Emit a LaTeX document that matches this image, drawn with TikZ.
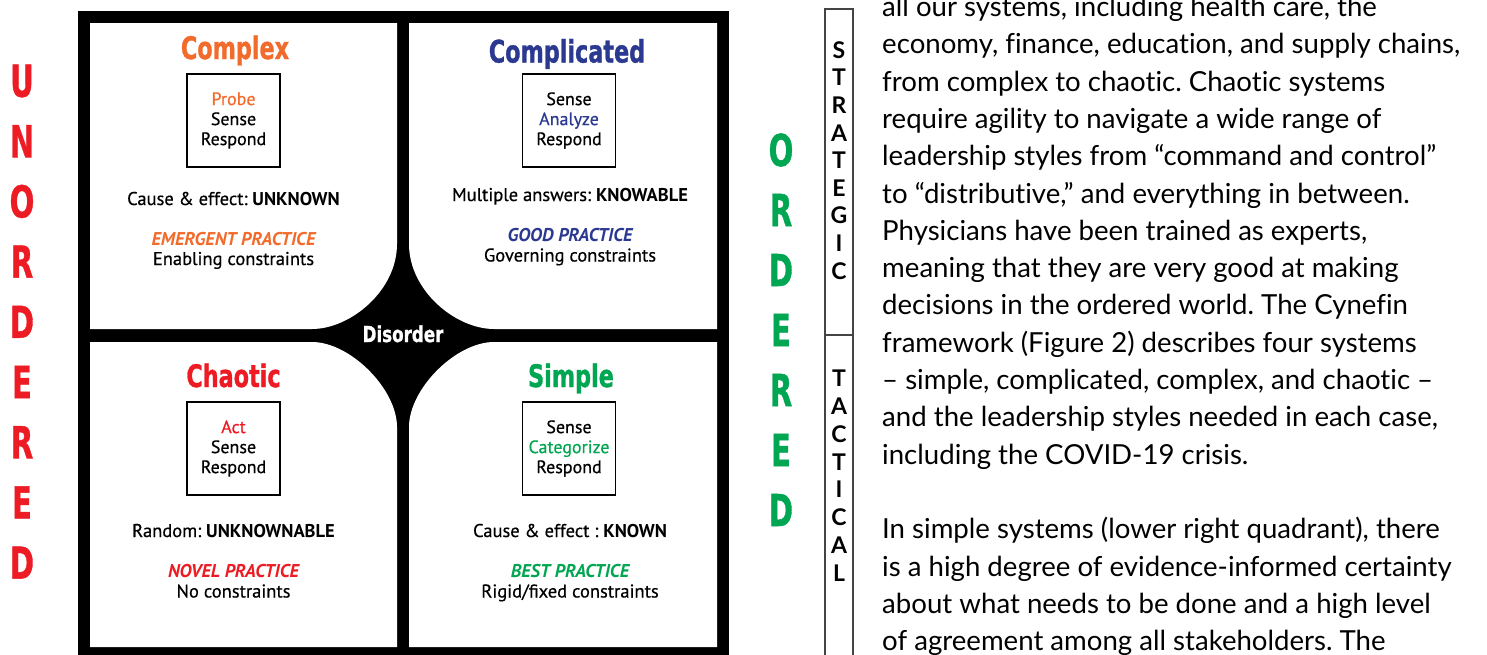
\documentclass[tikz,border=0pt]{standalone}
\usepackage{fontspec}
\usepackage{graphicx}
\setmainfont{Lato}
\newfontfamily\qfont{PT Sans}[UprightFeatures={FakeBold=0.5}]
\newfontfamily\heavy{DejaVu Sans}[BoldFeatures={FakeBold=1.2}]
\newfontfamily\latof{Lato}[Ligatures=NoCommon]
\definecolor{cxorange}{HTML}{F26B2B}
\definecolor{cxblue}{HTML}{2B3990}
\definecolor{cxred}{HTML}{ED1C24}
\definecolor{cxgreen}{HTML}{00A651}
\definecolor{stripgray}{HTML}{444444}
\newcommand{\cond}[2]{\scalebox{#1}[1]{#2}}
\tikzset{
  qtitle/.style={anchor=base, inner sep=0pt, font=\heavy\bfseries\fontsize{31}{31}\selectfont},
  qbody/.style={anchor=base, inner sep=0pt, font=\qfont\fontsize{18.5}{20}\selectfont},
  qprac/.style={anchor=base, inner sep=0pt, font=\qfont\bfseries\itshape\fontsize{18.5}{20}\selectfont},
  qbox/.style={draw=black, line width=1.2pt, minimum width=93pt, minimum height=93pt, inner sep=0pt, align=center, font=\qfont\fontsize{18}{20}\selectfont},
  bigletter/.style={inner sep=0pt, anchor=center, font=\heavy\bfseries\fontsize{44}{44}\selectfont},
  stripletter/.style={inner sep=0pt, anchor=center, font=\latof\bfseries\fontsize{23}{23}\selectfont},
  stripline/.style={draw=stripgray, line width=1.3pt},
  para/.style={anchor=base west, inner sep=0pt, font=\latof\fontsize{27.6}{27.6}\selectfont},
}
\begin{document}
\frenchspacing
\begin{tikzpicture}[x=1pt,y=-1pt]
\useasboundingbox (0,0) rectangle (1487,654);
\clip (0,0) rectangle (1487,654);
\fill[white] (0,0) rectangle (1487,654);

% ---- Cynefin frame ----
\fill[black] (78,11) rectangle (729,670);
\fill[white] (90,23) -- (397,23) -- (397,244) .. controls (397,290.9) and (350.1,329) .. (312,329) -- (90,329) -- cycle;
\fill[white] (409,23) -- (717,23) -- (717,329) -- (494,329) .. controls (455.9,329) and (409,290.9) .. (409,244) -- cycle;
\fill[white] (90,342) -- (312,342) .. controls (350.1,342) and (397,388.9) .. (397,427) -- (397,647) -- (90,647) -- cycle;
\fill[white] (494,342) -- (717,342) -- (717,647) -- (409,647) -- (409,427) .. controls (409,388.9) and (455.9,342) .. (494,342) -- cycle;

\node[inner sep=0pt, anchor=base, text=white, font=\heavy\bfseries\fontsize{22}{22}\selectfont] (dis) at (403,342) {\cond{0.76}{Disorder}};

% Complex (top left)
\node[qtitle, text=cxorange] (tcx) at (235,59) {\cond{0.72}{Complex}};
\node[qbox] (bcx) at (233.5,120.5) {\textcolor{cxorange}{Probe}\\Sense\\Respond};
\node[qbody] (ccx) at (233.5,205) {Cause \& effect: \textbf{UNKNOWN}};
\node[qprac, text=cxorange] (pcx) at (233.5,245) {EMERGENT PRACTICE};
\node[qbody] (kcx) at (233.5,265) {Enabling constraints};

% Complicated (top right)
\node[qtitle, text=cxblue] (tcd) at (567,62.5) {\cond{0.72}{Complicated}};
\node[qbox] (bcd) at (569,120.5) {Sense\\\textcolor{cxblue}{Analyze}\\Respond};
\node[qbody] (ccd) at (570,201) {Multiple answers: \textbf{KNOWABLE}};
\node[qprac, text=cxblue] (pcd) at (570,241) {GOOD PRACTICE};
\node[qbody] (kcd) at (570,261.5) {Governing constraints};

% Chaotic (bottom left)
\node[qtitle, text=cxred] (tch) at (233.5,387) {\cond{0.72}{Chaotic}};
\node[qbox] (bch) at (233.5,448.5) {\textcolor{cxred}{Act}\\Sense\\Respond};
\node[qbody] (cch) at (233.5,537) {Random: \textbf{UNKNOWNABLE}};
\node[qprac, text=cxred] (pch) at (233.5,577) {NOVEL PRACTICE};
\node[qbody] (kch) at (233.5,597.5) {No constraints};

% Simple (bottom right)
\node[qtitle, text=cxgreen] (tsi) at (571,387) {\cond{0.72}{Simple}};
\node[qbox] (bsi) at (569,448.5) {Sense\\\textcolor{cxgreen}{Categorize}\\Respond};
\node[qbody] (csi) at (570,537) {Cause \& effect : \textbf{KNOWN}};
\node[qprac, text=cxgreen] (psi) at (570,577) {BEST PRACTICE};
\node[qbody] (ksi) at (570,597.5) {Rigid/fixed constraints};

% ---- UNORDERED / ORDERED ----
\foreach \l [count=\i from 0] in {U,N,O,R,D,E,R,E,D}
  \node[bigletter, text=cxred] (u\i) at (22,81+60.2*\i) {\cond{0.66}{\l}};
\foreach \l [count=\i from 0] in {O,R,D,E,R,E,D}
  \node[bigletter, text=cxgreen] (o\i) at (781,150+60*\i) {\cond{0.66}{\l}};

% ---- strategic / tactical strip ----
\coordinate (stl) at (825,9);
\coordinate (str) at (853,9);
\coordinate (sbl) at (825,670);
\coordinate (sbr) at (853,670);
\coordinate (sml) at (825,335);
\coordinate (smr) at (853,335);
\draw[stripline] (sbl) -- (stl) -- (str) -- (sbr);
\draw[stripline] (sml) -- (smr);
\foreach \l [count=\i from 0] in {S,T,R,A,T,E,G,I,C}
  \node[stripletter] (s\i) at (839,50+27.6*\i) {\l};
\foreach \l [count=\i from 0] in {T,A,C,T,I,C,A,L}
  \node[stripletter] (t\i) at (839,378+27.9*\i) {\l};

% ---- paragraph text ----
\node[para] (p1) at (882,16.5) {all our systems, including health care, the};
\node[para] (p2) at (882,53.8) {economy, finance, education, and supply chains,};
\node[para] (p3) at (882,91.1) {from complex to chaotic. Chaotic systems};
\node[para] (p4) at (882,128.4) {require agility to navigate a wide range of};
\node[para] (p5) at (882,165.7) {leadership styles from “command and control”};
\node[para] (p6) at (882,203.0) {to “distributive,” and everything in between.};
\node[para] (p7) at (882,240.3) {Physicians have been trained as experts,};
\node[para] (p8) at (882,277.6) {meaning that they are very good at making};
\node[para] (p9) at (882,314.9) {decisions in the ordered world. The Cynefin};
\node[para] (p10) at (882,352.2) {framework (Figure 2) describes four systems};
\node[para] (p11) at (882,389.5) {– simple, complicated, complex, and chaotic –};
\node[para] (p12) at (882,426.8) {and the leadership styles needed in each case,};
\node[para] (p13) at (882,464.1) {including the COVID-19 crisis.};
\node[para] (p14) at (882,538.7) {In simple systems (lower right quadrant), there};
\node[para] (p15) at (882,576.0) {is a high degree of evidence-informed certainty};
\node[para] (p16) at (882,613.3) {about what needs to be done and a high level};
\node[para] (p17) at (882,650.6) {of agreement among all stakeholders. The};
\end{tikzpicture}
\end{document}
